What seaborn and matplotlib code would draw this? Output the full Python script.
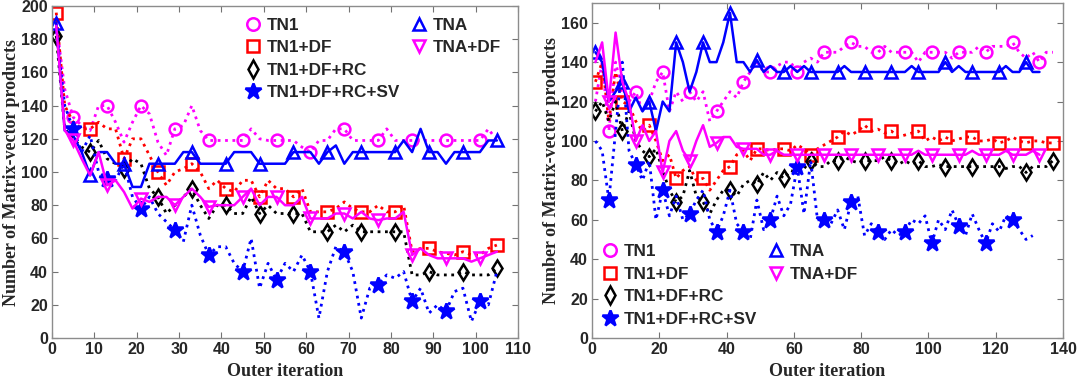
import matplotlib.pyplot as plt
import numpy as np
import pandas as pd
import seaborn as sns
from matplotlib.lines import Line2D

# left panel, values at odd outer iterations 1, 3, 5, ...
left_tn1 = [190, 150, 133, 128, 125, 140, 140, 130, 118, 130,
            140, 135, 118, 110, 126, 128, 140, 125, 119, 119,
            119, 119, 119, 126, 120, 119, 119, 119, 119, 115,
            112, 119, 119, 126, 126, 119, 119, 119, 119, 126,
            119, 119, 119, 119, 119, 119, 119, 119, 119, 119,
            119, 126, 119]
left_tn1_df = [196, 140, 130, 126, 126, 130, 126, 126, 108, 120,
               120, 110, 100, 92, 100, 102, 105, 100, 90, 95,
               90, 88, 95, 95, 85, 95, 90, 90, 85, 90,
               76, 76, 76, 78, 82, 78, 76, 76, 80, 76,
               76, 80, 52, 54, 54, 52, 51, 50, 52, 50,
               50, 54, 56]
left_tn1_df_rc = [182, 126, 120, 115, 112, 119, 108, 105, 102, 108,
                  105, 90, 85, 75, 80, 85, 90, 80, 72, 80,
                  80, 75, 75, 85, 75, 80, 75, 75, 75, 75,
                  64, 64, 64, 68, 64, 68, 64, 64, 64, 64,
                  64, 64, 38, 38, 40, 38, 38, 38, 40, 38,
                  38, 38, 42]
left_tn1_df_rc_sv = [185, 140, 126, 112, 122, 100, 96, 95, 105, 85,
                     78, 85, 75, 70, 65, 58, 80, 62, 50, 55,
                     55, 45, 40, 60, 30, 45, 35, 45, 40, 50,
                     40, 12, 40, 55, 52, 40, 12, 30, 32, 38,
                     36, 40, 22, 30, 15, 20, 16, 28, 30, 10,
                     22, 20, 40]
left_tna = [190, 125, 122, 112, 98, 112, 112, 105, 105, 91,
            91, 105, 105, 105, 105, 112, 112, 105, 105, 105,
            105, 112, 112, 112, 105, 105, 105, 105, 112, 112,
            112, 105, 112, 116, 105, 112, 112, 112, 112, 112,
            112, 119, 112, 126, 112, 112, 105, 112, 112, 112,
            112, 119, 119]
left_tna_df = [188, 125, 119, 108, 98, 112, 92, 95, 88, 78,
               84, 82, 85, 85, 80, 85, 90, 85, 79, 80,
               80, 80, 85, 90, 80, 85, 85, 80, 80, 85,
               72, 72, 72, 75, 75, 72, 76, 72, 71, 72,
               72, 76, 50, 54, 50, 48, 48, 48, 48, 46,
               48, 50, 52]

# right panel
right_tn1 = [120, 140, 105, 140, 125, 120, 125, 115, 120, 130,
             135, 115, 125, 120, 125, 120, 125, 110, 115, 120,
             125, 122, 130, 135, 140, 135, 135, 138, 140, 140,
             135, 140, 142, 140, 145, 145, 145, 148, 150, 148,
             148, 145, 145, 148, 145, 145, 145, 145, 140, 145,
             145, 145, 145, 142, 145, 145, 145, 148, 145, 148,
             148, 148, 150, 145, 142, 145, 140, 145, 145]
right_tn1_df = [130, 140, 110, 135, 120, 118, 110, 105, 108, 100,
                90, 93, 81, 85, 87, 80, 81, 75, 80, 85,
                87, 93, 95, 90, 96, 96, 95, 96, 96, 95,
                98, 96, 93, 96, 98, 100, 102, 105, 103, 105,
                108, 105, 106, 104, 105, 102, 103, 104, 105, 100,
                102, 100, 102, 100, 101, 102, 102, 100, 100, 101,
                99, 100, 102, 100, 99, 100, 100, 99, 99]
right_tn1_df_rc = [115, 120, 110, 120, 105, 115, 100, 95, 92, 96,
                   85, 75, 69, 72, 85, 72, 69, 63, 70, 75,
                   75, 72, 78, 80, 78, 84, 80, 84, 81, 85,
                   84, 86, 90, 87, 87, 90, 90, 92, 90, 89,
                   90, 90, 90, 92, 90, 88, 90, 88, 90, 87,
                   87, 88, 87, 87, 87, 87, 87, 87, 87, 87,
                   87, 86, 87, 87, 84, 87, 87, 87, 90]
right_tn1_df_rc_sv = [100, 95, 70, 105, 140, 95, 88, 80, 90, 60,
                      75, 62, 72, 60, 63, 70, 75, 60, 54, 62,
                      75, 58, 54, 50, 70, 55, 60, 72, 62, 68,
                      87, 63, 90, 60, 60, 58, 65, 55, 69, 72,
                      52, 58, 54, 50, 55, 52, 54, 60, 58, 62,
                      48, 60, 55, 65, 57, 52, 63, 55, 48, 58,
                      54, 62, 60, 55, 50, 52]
right_tna = [145, 140, 120, 125, 130, 115, 122, 115, 120, 105,
             120, 115, 150, 140, 125, 135, 150, 140, 140, 150,
             165, 140, 140, 135, 141, 135, 138, 135, 135, 138,
             135, 138, 135, 135, 135, 135, 135, 138, 135, 135,
             135, 135, 135, 135, 135, 135, 135, 138, 135, 135,
             135, 135, 140, 135, 138, 135, 135, 135, 135, 135,
             135, 138, 135, 135, 140, 135, 135]
right_tna_df = [140, 150, 120, 155, 130, 120, 100, 108, 100, 105,
                84, 100, 105, 95, 90, 100, 108, 97, 99, 102,
                102, 97, 96, 96, 96, 93, 93, 95, 93, 93,
                93, 93, 93, 93, 93, 93, 93, 93, 93, 93,
                93, 93, 93, 93, 93, 93, 93, 93, 95, 93,
                93, 93, 93, 93, 93, 93, 95, 93, 93, 93,
                93, 95, 93, 93, 93, 95, 93]

labels = ["TN1", "TN1+DF", "TN1+DF+RC", "TN1+DF+RC+SV", "TNA", "TNA+DF"]

# color, linestyle, marker, filled, first marked point
styles = {
    "TN1": ("#FF00FF", ":", "o", False, 2),
    "TN1+DF": ("#FF0000", ":", "s", False, 0),
    "TN1+DF+RC": ("black", ":", "d", False, 0),
    "TN1+DF+RC+SV": ("#0000FF", ":", "*", True, 2),
    "TNA": ("#0000FF", "-", "^", False, 0),
    "TNA+DF": ("#FF00FF", "-", "v", False, 2),
}

sns.set_style("ticks")
plt.rcParams["font.family"] = ["Liberation Sans", "DejaVu Sans"]
plt.rcParams["font.weight"] = "bold"
plt.rcParams["xtick.direction"] = "in"
plt.rcParams["ytick.direction"] = "in"


def draw_panel(ax, series, xmax, ymax, xstep, legend_anchor):
    for name, vals in zip(labels, series):
        color, ls, mk, filled, start = styles[name]
        it = np.arange(1, 2 * len(vals), 2)
        sns.lineplot(x=it, y=vals, ax=ax, color=color, linestyle=ls,
                     linewidth=2.0 if ls == ":" else 1.8, estimator=None,
                     marker=mk, markevery=(start, 4),
                     markersize=12 if mk == "*" else 8.5,
                     markerfacecolor=color if filled else "none",
                     markeredgecolor=color, markeredgewidth=1.8)
    ax.set_xlim(0, xmax)
    ax.set_ylim(0, ymax)
    ax.set_xticks(np.arange(0, xmax + 1, xstep))
    ax.set_yticks(np.arange(0, ymax + 1, 20))
    ax.tick_params(labelsize=11.5, top=True, right=True, length=4, color="0.45", pad=3)
    plt.setp(ax.get_xticklabels() + ax.get_yticklabels(), fontweight="bold")
    for sp in ax.spines.values():
        sp.set_color("0.55")
        sp.set_linewidth(1)
    ax.set_xlabel("Outer iteration", family="Liberation Serif", fontsize=13, fontweight="bold", labelpad=4)
    ax.set_ylabel("Number of Matrix-vector products", family="Liberation Serif", fontsize=13,
                  fontweight="bold", labelpad=1)

    handles = []
    for name in labels:
        color, ls, mk, filled, start = styles[name]
        handles.append(Line2D([], [], linestyle="none", marker=mk, color=color,
                              markersize=12 if mk == "*" else 9,
                              markerfacecolor=color if filled else "none",
                              markeredgewidth=1.8))
    blank = Line2D([], [], linestyle="none")
    ax.legend(handles + [blank, blank], labels + ["", ""], ncol=2, frameon=False,
              loc="upper left", bbox_to_anchor=legend_anchor, borderaxespad=0, borderpad=0,
              handlelength=1.0, handletextpad=0.3, columnspacing=0.61, labelspacing=0.44,
              prop={"size": 12.3, "weight": "bold"})


fig = plt.figure(figsize=(10.79, 3.90), dpi=100)
ax1 = fig.add_axes([0.0482, 0.1333, 0.4319, 0.8513])
ax2 = fig.add_axes([0.5487, 0.1333, 0.4365, 0.859])

draw_panel(ax1, [left_tn1, left_tn1_df, left_tn1_df_rc, left_tn1_df_rc_sv, left_tna, left_tna_df],
           110, 200, 10, (0.413, 0.965))
draw_panel(ax2, [right_tn1, right_tn1_df, right_tn1_df_rc, right_tn1_df_rc_sv, right_tna, right_tna_df],
           140, 170, 20, (0.020, 0.28))

fig.savefig("out.png", dpi=100)
